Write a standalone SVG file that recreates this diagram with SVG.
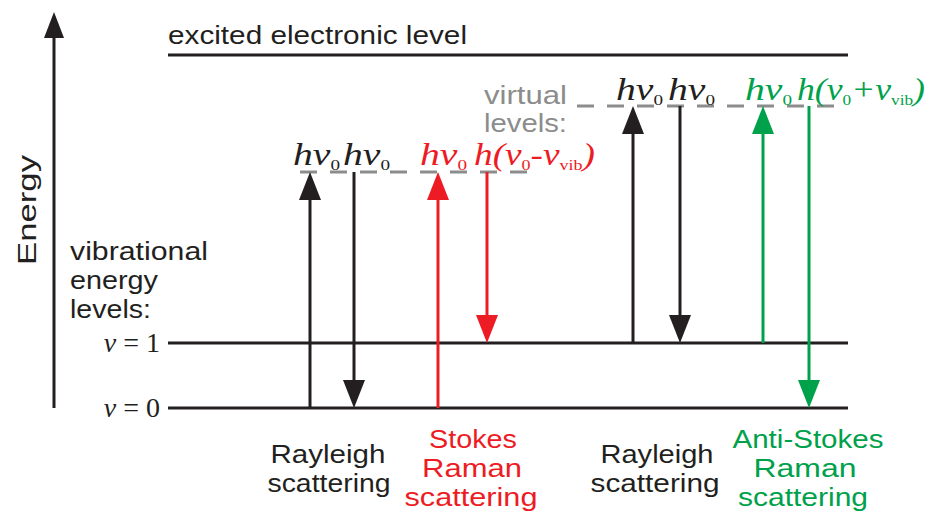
<svg xmlns="http://www.w3.org/2000/svg" width="931" height="515" viewBox="0 0 931 515">
<defs>
<style>
.sans{font-family:"Liberation Sans",Arial,sans-serif;font-size:26px;}
.ser{font-family:"Liberation Serif","Times New Roman",serif;font-style:italic;font-size:31px;}
.up{font-family:"Liberation Serif","Times New Roman",serif;font-size:28px;}
.it{font-style:italic;}
.sub{font-style:normal;font-size:15px;}
.k{fill:#231f20;}
.r{fill:#ed1c24;}
.g{fill:#00a14b;}
.lvl{stroke:#231f20;stroke-width:3;fill:none;}
.dash{stroke:#8c8c8c;stroke-width:3;stroke-dasharray:17 13;fill:none;}
.ak{stroke:#231f20;stroke-width:3;}
.ar{stroke:#ed1c24;stroke-width:3;}
.ag{stroke:#00a14b;stroke-width:3;}
.lab{text-anchor:middle;}
</style>
</defs>
<rect width="931" height="515" fill="#fff"/>
<g id="axis">
<line x1="54" y1="408" x2="54" y2="36" class="ak"/>
<polygon points="54,12 44,38 64,38" fill="#231f20"/>
<text class="sans k" font-size="33" transform="translate(36,210) rotate(-90)" text-anchor="middle" textLength="110" lengthAdjust="spacingAndGlyphs">Energy</text>
</g>
<g id="excited-level">
<line x1="168" y1="55" x2="848" y2="55" class="lvl"/>
<text class="sans k" x="168" y="44" font-size="27" textLength="299" lengthAdjust="spacingAndGlyphs">excited electronic level</text>
</g>
<g id="vib-levels">
<text class="sans k" x="70" y="260" textLength="138" lengthAdjust="spacingAndGlyphs">vibrational</text>
<text class="sans k" x="70" y="289" textLength="88" lengthAdjust="spacingAndGlyphs">energy</text>
<text class="sans k" x="70" y="318" textLength="81" lengthAdjust="spacingAndGlyphs">levels:</text>
<line x1="168" y1="343" x2="848" y2="343" class="lvl"/>
<line x1="168" y1="408" x2="848" y2="408" class="lvl"/>
<text class="up k" x="160" y="352" text-anchor="end"><tspan class="it">v</tspan> = 1</text>
<text class="up k" x="160" y="417" text-anchor="end"><tspan class="it">v</tspan> = 0</text>
</g>
<g id="virtual-levels">
<line x1="300" y1="172" x2="532" y2="172" class="dash"/>
<line x1="577" y1="106" x2="840" y2="106" class="dash"/>
<text class="sans" x="484" y="104" fill="#8c8c8c" textLength="83" lengthAdjust="spacingAndGlyphs">virtual</text>
<text class="sans" x="484" y="132" fill="#8c8c8c" textLength="83" lengthAdjust="spacingAndGlyphs">levels:</text>
</g>
<g id="connectors">
<line x1="310" y1="408" x2="310" y2="195" class="ak"/>
<polygon points="310,172 299,200 321,200" fill="#231f20"/>
<line x1="354" y1="172" x2="354" y2="385" class="ak"/>
<polygon points="354,408 343,380 365,380" fill="#231f20"/>
<line x1="438" y1="408" x2="438" y2="195" class="ar"/>
<polygon points="438,172 427,200 449,200" fill="#ed1c24"/>
<line x1="487" y1="172" x2="487" y2="320" class="ar"/>
<polygon points="487,343 476,315 498,315" fill="#ed1c24"/>
<line x1="633" y1="343" x2="633" y2="129" class="ak"/>
<polygon points="633,106 622,134 644,134" fill="#231f20"/>
<line x1="680" y1="106" x2="680" y2="320" class="ak"/>
<polygon points="680,343 669,315 691,315" fill="#231f20"/>
<line x1="763" y1="343" x2="763" y2="129" class="ag"/>
<polygon points="763,106 752,134 774,134" fill="#00a14b"/>
<line x1="809" y1="106" x2="809" y2="385" class="ag"/>
<polygon points="809,408 798,380 820,380" fill="#00a14b"/>
</g>
<g id="labels-left">
<text class="ser k" x="293" y="165" textLength="47" lengthAdjust="spacingAndGlyphs">hv<tspan class="sub" dy="5">0</tspan></text>
<text class="ser k" x="343" y="165" textLength="47" lengthAdjust="spacingAndGlyphs">hv<tspan class="sub" dy="5">0</tspan></text>
<text class="ser r" x="420" y="165" textLength="47" lengthAdjust="spacingAndGlyphs">hv<tspan class="sub" dy="5">0</tspan></text>
<text class="ser r" x="474" y="165" textLength="121" lengthAdjust="spacingAndGlyphs">h(v<tspan class="sub" dy="5">0</tspan><tspan dy="-5">-v</tspan><tspan class="sub" dy="5">vib</tspan><tspan dy="-5">)</tspan></text>
</g>
<g id="labels-right">
<text class="ser k" x="616" y="100" textLength="47" lengthAdjust="spacingAndGlyphs">hv<tspan class="sub" dy="5">0</tspan></text>
<text class="ser k" x="668" y="100" textLength="47" lengthAdjust="spacingAndGlyphs">hv<tspan class="sub" dy="5">0</tspan></text>
<text class="ser g" x="745" y="100" textLength="47" lengthAdjust="spacingAndGlyphs">hv<tspan class="sub" dy="5">0</tspan></text>
<text class="ser g" x="797" y="100" textLength="128" lengthAdjust="spacingAndGlyphs">h(v<tspan class="sub" dy="5">0</tspan><tspan dy="-5">+v</tspan><tspan class="sub" dy="5">vib</tspan><tspan dy="-5">)</tspan></text>
</g>
<g id="rayleigh-1">
<text class="sans k lab" x="328" y="463" textLength="115" lengthAdjust="spacingAndGlyphs">Rayleigh</text>
<text class="sans k lab" x="329" y="492" textLength="123" lengthAdjust="spacingAndGlyphs">scattering</text>
</g>
<g id="stokes">
<text class="sans r lab" x="473" y="448" textLength="88" lengthAdjust="spacingAndGlyphs">Stokes</text>
<text class="sans r lab" x="472" y="477" textLength="100" lengthAdjust="spacingAndGlyphs">Raman</text>
<text class="sans r lab" x="471" y="506" textLength="133" lengthAdjust="spacingAndGlyphs">scattering</text>
</g>
<g id="rayleigh-2">
<text class="sans k lab" x="657" y="463" textLength="113" lengthAdjust="spacingAndGlyphs">Rayleigh</text>
<text class="sans k lab" x="655" y="492" textLength="129" lengthAdjust="spacingAndGlyphs">scattering</text>
</g>
<g id="anti-stokes">
<text class="sans g lab" x="808" y="448" textLength="151" lengthAdjust="spacingAndGlyphs">Anti-Stokes</text>
<text class="sans g lab" x="805" y="477" textLength="103" lengthAdjust="spacingAndGlyphs">Raman</text>
<text class="sans g lab" x="803" y="506" textLength="130" lengthAdjust="spacingAndGlyphs">scattering</text>
</g>
</svg>
